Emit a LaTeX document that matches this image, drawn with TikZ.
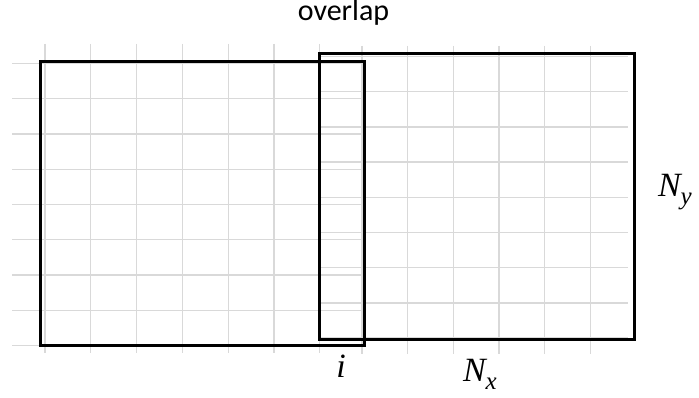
\documentclass[tikz,border=0pt]{standalone}
\usepackage{fontspec}
\newfontfamily\carlito{Carlito}
\newfontfamily\mserif{Liberation Serif}
\newcommand{\sbx}[1]{\raisebox{-8pt}{\fontsize{25}{25}\selectfont\mserif\itshape #1}}
\tikzset{
  gridline/.style={draw=black!15, line width=1.3pt},
  boxline/.style={draw=black, line width=3pt},
  lbl/.style={inner sep=0pt, outer sep=0pt},
  mathlbl/.style={lbl, font=\fontsize{34}{34}\selectfont\mserif\itshape}
}
\begin{document}
\begin{tikzpicture}[x=1pt,y=1pt]
\useasboundingbox (0,0) rectangle (699,398);
% left grid
\foreach \k in {0,...,6} {
  \draw[gridline] ({45+45.8*\k},{398-44}) -- ({45+45.8*\k},{398-353});
}
\foreach \k in {0,...,8} {
  \draw[gridline] (12,{398-63.3-35.3*\k}) -- (362,{398-63.3-35.3*\k});
}
% right grid
\foreach \k in {0,...,5} {
  \draw[gridline] ({362+45.7*\k},{398-46}) -- ({362+45.7*\k},{398-354});
}
\foreach \k in {0,...,8} {
  \draw[gridline] (318,{398-56.5-35.2*\k}) -- (628,{398-56.5-35.2*\k});
}
% boxes
\draw[boxline] (40.7,{398-61.7}) rectangle (364.3,{398-345.7});
\draw[boxline] (319,{398-54}) rectangle (634,{398-340});
% labels
\node[lbl, anchor=base] (overlap) at (343.5,377) {\carlito\fontsize{30}{30}\selectfont overlap};
\node[mathlbl, anchor=base west] (ny) at (658,201.3) {N\sbx{y}};
\node[mathlbl, anchor=base] (i) at (341,20) {i};
\node[mathlbl, anchor=base west] (nx) at (463,16) {N\sbx{x}};
\end{tikzpicture}
\end{document}
